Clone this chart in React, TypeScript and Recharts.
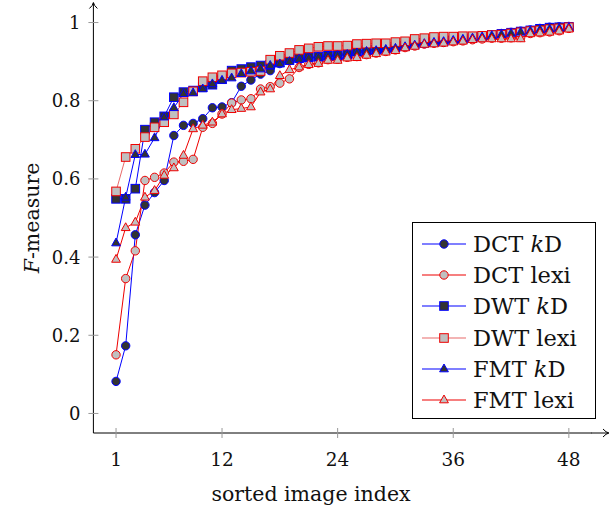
import React from 'react'
import { LineChart, Line, XAxis, YAxis, Legend } from 'recharts'

// sorted image index (x)
const imageIndex = [
  1, 2, 3, 4, 5, 6, 7, 8, 9, 10, 11, 12, 13, 14, 15, 16, 17, 18, 19, 20, 21, 22, 23, 24,
  25, 26, 27, 28, 29, 30, 31, 32, 33, 34, 35, 36, 37, 38, 39, 40, 41, 42, 43, 44, 45, 46, 47, 48,
]

// F-measure per series
const dctKd = [
  0.082, 0.173, 0.457, 0.533, 0.565, 0.596, 0.711, 0.737, 0.742, 0.754, 0.782, 0.784,
  0.795, 0.837, 0.853, 0.868, 0.877, 0.895, 0.902, 0.905, 0.908, 0.912, 0.915, 0.918,
  0.921, 0.925, 0.928, 0.93, 0.933, 0.937, 0.94, 0.943, 0.946, 0.949, 0.952, 0.955,
  0.958, 0.961, 0.964, 0.968, 0.972, 0.975, 0.978, 0.981, 0.985, 0.988, 0.989, 0.99,
]
const dctLexi = [
  0.15, 0.345, 0.416, 0.596, 0.604, 0.615, 0.643, 0.645, 0.65, 0.732, 0.742, 0.766,
  0.794, 0.802, 0.805, 0.83, 0.836, 0.845, 0.856, 0.885, 0.893, 0.897, 0.905, 0.906,
  0.911, 0.913, 0.918, 0.922, 0.926, 0.93, 0.936, 0.94, 0.945, 0.947, 0.949, 0.951,
  0.953, 0.956, 0.958, 0.96, 0.96, 0.961, 0.962, 0.972, 0.974, 0.976, 0.979, 0.985,
]
const dwtKd = [
  0.549, 0.549, 0.575, 0.726, 0.745, 0.76, 0.809, 0.822, 0.826, 0.835, 0.841, 0.855,
  0.877, 0.881, 0.886, 0.89, 0.892, 0.898, 0.905, 0.909, 0.911, 0.913, 0.915, 0.916,
  0.918, 0.927, 0.93, 0.931, 0.933, 0.937, 0.94, 0.944, 0.948, 0.95, 0.952, 0.955,
  0.958, 0.961, 0.964, 0.968, 0.971, 0.974, 0.977, 0.98, 0.984, 0.987, 0.988, 0.989,
]
const dwtLexi = [
  0.568, 0.656, 0.677, 0.707, 0.732, 0.745, 0.765, 0.796, 0.824, 0.85, 0.86, 0.865,
  0.87, 0.872, 0.874, 0.876, 0.905, 0.915, 0.922, 0.93, 0.934, 0.938, 0.94, 0.94,
  0.941, 0.945, 0.946, 0.947, 0.947, 0.95, 0.952, 0.958, 0.96, 0.963, 0.964, 0.964,
  0.965, 0.965, 0.966, 0.968, 0.969, 0.972, 0.975, 0.978, 0.98, 0.983, 0.985, 0.988,
]
const fmtKd = [
  0.436, 0.553, 0.662, 0.663, 0.705, 0.758, 0.782, 0.818, 0.82, 0.83, 0.843, 0.852,
  0.858, 0.869, 0.876, 0.881, 0.89, 0.894, 0.9, 0.906, 0.909, 0.911, 0.913, 0.915,
  0.918, 0.922, 0.926, 0.928, 0.931, 0.934, 0.938, 0.942, 0.946, 0.949, 0.951, 0.954,
  0.957, 0.96, 0.963, 0.966, 0.969, 0.972, 0.975, 0.978, 0.981, 0.983, 0.985, 0.987,
]
const fmtLexi = [
  0.394, 0.475, 0.489, 0.553, 0.57, 0.609, 0.628, 0.66, 0.728, 0.737, 0.745, 0.766,
  0.777, 0.78, 0.784, 0.822, 0.83, 0.864, 0.879, 0.886, 0.892, 0.895, 0.903, 0.903,
  0.909, 0.91, 0.916, 0.92, 0.924, 0.928, 0.935, 0.939, 0.944, 0.945, 0.947, 0.95,
  0.952, 0.956, 0.958, 0.958, 0.958, 0.958, 0.958, 0.971, 0.973, 0.975, 0.978, 0.983,
]

const xTicks = [1, 12, 24, 36, 48]
const yTicks = [0, 0.2, 0.4, 0.6, 0.8, 1]

const FONT = '"DejaVu Serif", serif'
const BLUE = '#0000ff'
const RED = '#ee0000'
const DARK = '#333333'
const LIGHT = '#c0c0c0'

type Shape = 'circle' | 'square' | 'triangle'

const series = [
  { key: 'dctKd', values: dctKd, name: 'DCT', kd: true, shape: 'circle' as Shape, line: BLUE, edge: BLUE, fill: DARK },
  { key: 'dctLexi', values: dctLexi, name: 'DCT', kd: false, shape: 'circle' as Shape, line: RED, edge: RED, fill: LIGHT },
  { key: 'dwtKd', values: dwtKd, name: 'DWT', kd: true, shape: 'square' as Shape, line: BLUE, edge: BLUE, fill: DARK },
  { key: 'dwtLexi', values: dwtLexi, name: 'DWT', kd: false, shape: 'square' as Shape, line: '#e86a6a', edge: RED, fill: LIGHT },
  { key: 'fmtKd', values: fmtKd, name: 'FMT', kd: true, shape: 'triangle' as Shape, line: BLUE, edge: BLUE, fill: DARK },
  { key: 'fmtLexi', values: fmtLexi, name: 'FMT', kd: false, shape: 'triangle' as Shape, line: RED, edge: RED, fill: LIGHT },
]

const rows = imageIndex.map((idx, i) => {
  const row: { [k: string]: number } = { idx }
  series.forEach(s => { row[s.key] = s.values[i] })
  return row
})

function Marker({ shape, cx, cy, fill, stroke }: { shape: Shape; cx: number; cy: number; fill: string; stroke: string }) {
  if (shape === 'circle') {
    return <circle cx={cx} cy={cy} r={4.2} fill={fill} stroke={stroke} strokeWidth={1} />
  }
  if (shape === 'square') {
    return <rect x={cx - 4.3} y={cy - 4.3} width={8.6} height={8.6} fill={fill} stroke={stroke} strokeWidth={1} />
  }
  return (
    <polygon
      points={`${cx},${cy - 5} ${cx - 4.4},${cy + 2.8} ${cx + 4.4},${cy + 2.8}`}
      fill={fill}
      stroke={stroke}
      strokeWidth={1}
    />
  )
}

const makeDot = (shape: Shape, fill: string, stroke: string) => (props: any) => {
  const { cx, cy, index } = props
  if (cx == null || cy == null) return <g key={index} />
  return (
    <g key={index}>
      <Marker shape={shape} cx={cx} cy={cy} fill={fill} stroke={stroke} />
    </g>
  )
}

const XTick = (props: any) => {
  const { x, y, payload } = props
  return (
    <g>
      <line x1={x} x2={x} y1={y - 5} y2={y + 5} stroke="#999" strokeWidth={1} />
      <text x={x} y={y + 33} textAnchor="middle" fontFamily={FONT} fontSize={18.5} fill="#111">
        {payload.value}
      </text>
    </g>
  )
}

const YTick = (props: any) => {
  const { x, y, payload } = props
  return (
    <g>
      <line x1={x - 5} x2={x + 5} y1={y} y2={y} stroke="#999" strokeWidth={1} />
      <text x={x - 13} y={y} dy="0.36em" textAnchor="end" fontFamily={FONT} fontSize={18} fill="#111">
        {String(payload.value)}
      </text>
    </g>
  )
}

const renderLegend = () => (
  <div
    style={{
      width: 184,
      height: 197,
      boxSizing: 'border-box',
      border: '1px solid #000',
      background: '#fff',
      paddingTop: 5,
    }}
  >
    {series.map(s => (
      <div key={s.key} style={{ display: 'flex', alignItems: 'center', height: 31.3 }}>
        <svg width={60} height={20} style={{ flex: 'none' }}>
          <line x1={9} x2={53} y1={10} y2={10} stroke={s.line} strokeWidth={1.2} />
          <Marker shape={s.shape} cx={31} cy={10} fill={s.fill} stroke={s.edge} />
        </svg>
        <span style={{ fontFamily: FONT, fontSize: 22.5, color: '#111', whiteSpace: 'nowrap' }}>
          {s.name} {s.kd ? <><i>k</i>D</> : 'lexi'}
        </span>
      </div>
    ))}
  </div>
)

export default function App() {
  return (
    <div style={{ position: 'absolute', left: 0, top: 0, width: 610, height: 510, background: '#fff' }}>
      <LineChart
        width={610}
        height={510}
        data={rows}
        margin={{ top: 3, right: 18.5, bottom: 47, left: 33.4 }}
      >
        <XAxis
          dataKey="idx"
          type="number"
          domain={[-1.35, 50.35]}
          ticks={xTicks}
          height={30}
          tickSize={0}
          tickMargin={0}
          tickLine={false}
          tick={<XTick />}
          axisLine={{ stroke: '#000', strokeWidth: 1 }}
          label={{
            content: () => (
              <text x={311} y={501} textAnchor="middle" fontFamily={FONT} fontSize={20.5} fill="#111">
                sorted image index
              </text>
            ),
          }}
        />
        <YAxis
          type="number"
          domain={[-0.05, 1.05]}
          ticks={yTicks}
          width={60}
          tickSize={0}
          tickMargin={0}
          tickLine={false}
          tick={<YTick />}
          axisLine={{ stroke: '#000', strokeWidth: 1 }}
          label={{
            content: () => (
              <text
                x={39}
                y={218}
                transform="rotate(-90 39 218)"
                textAnchor="middle"
                fontFamily={FONT}
                fontSize={20.5}
                fill="#111"
              >
                <tspan fontStyle="italic">F</tspan>-measure
              </text>
            ),
          }}
        />
        {series.map(s => (
          <Line
            key={s.key}
            dataKey={s.key}
            type="linear"
            stroke={s.line}
            strokeWidth={1}
            dot={makeDot(s.shape, s.fill, s.edge)}
            activeDot={false}
            isAnimationActive={false}
          />
        ))}
        <Legend
          layout="vertical"
          align="center"
          verticalAlign="middle"
          content={renderLegend}
          wrapperStyle={{ position: 'absolute', left: 412, top: 222, width: 184, height: 197, margin: 0 }}
        />
      </LineChart>
      <svg
        width={610}
        height={510}
        style={{ position: 'absolute', left: 0, top: 0, pointerEvents: 'none' }}
      >
        <line x1={591} x2={608} y1={433} y2={433} stroke="#000" strokeWidth={1} />
        <path d="M 603 429 Q 606 432.5 609 433 Q 606 433.5 603 437" fill="none" stroke="#000" strokeWidth={1} />
        <path d="M 89.4 8.5 Q 93 5.5 93.4 2.5 Q 94 5.5 97.4 8.5" fill="none" stroke="#000" strokeWidth={1} />
      </svg>
    </div>
  )
}
